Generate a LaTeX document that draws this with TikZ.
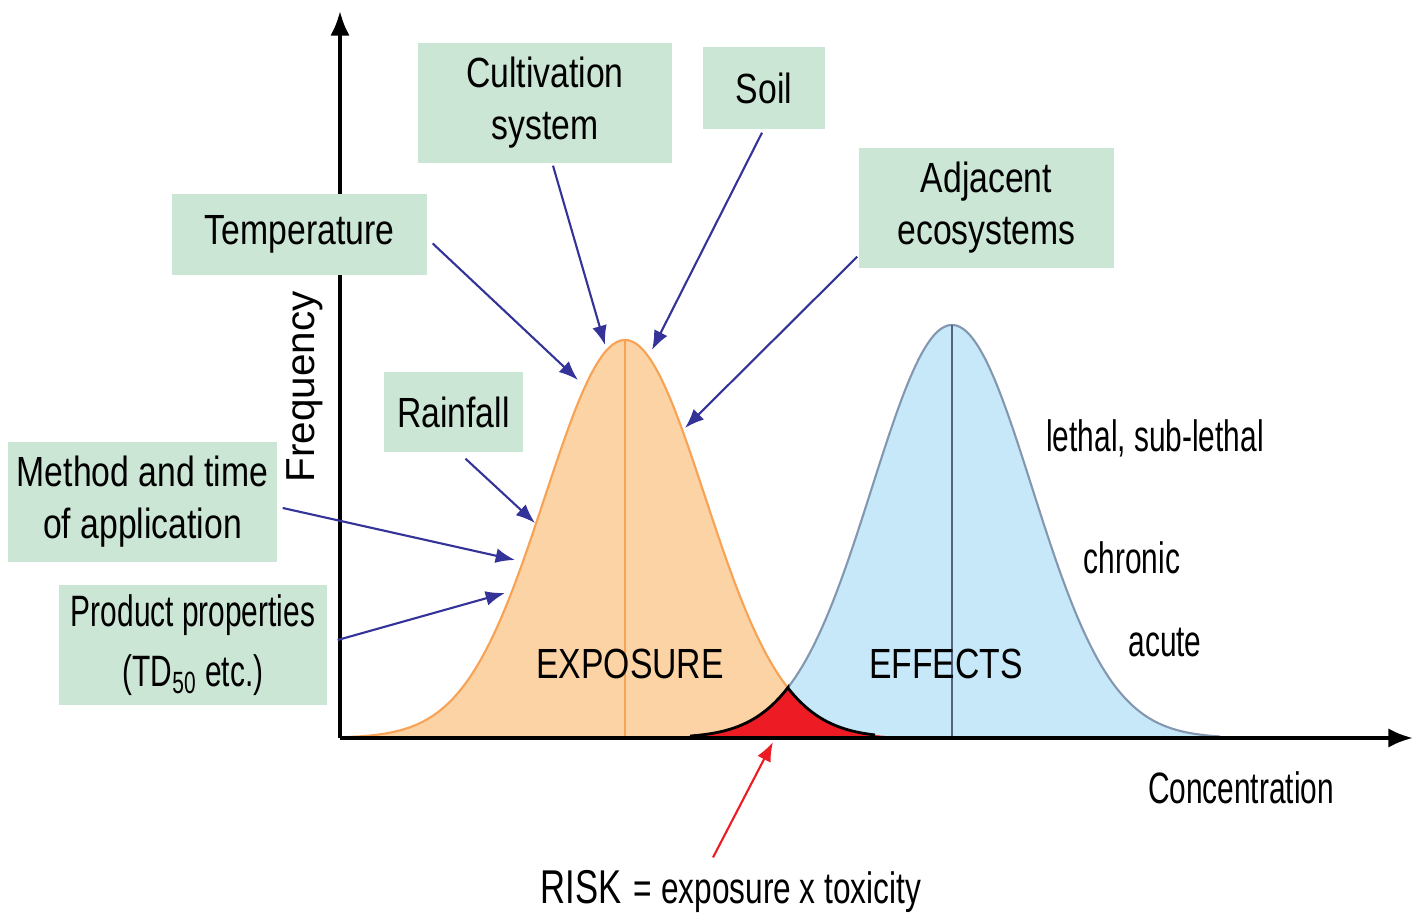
\documentclass[tikz,border=0pt]{standalone}
\usepackage{fontspec}
\setmainfont{Liberation Sans}
\usepackage{graphicx}
\usetikzlibrary{arrows.meta, positioning}

\definecolor{boxgreen}{RGB}{204,230,214}
\definecolor{expofill}{RGB}{251,211,164}
\definecolor{expoline}{RGB}{247,162,84}
\definecolor{efffill}{RGB}{198,232,248}
\definecolor{effline}{RGB}{132,151,176}
\definecolor{effmid}{RGB}{84,100,128}
\definecolor{arrowblue}{RGB}{51,51,153}
\definecolor{riskred}{RGB}{237,28,36}

\newcommand{\sq}[1]{\scalebox{0.8}[1]{#1}}
\newcommand{\narrow}[1]{\scalebox{0.68}[1]{#1}}

\begin{document}
\begin{tikzpicture}[
	declare function={expo(\x)=1.75+3.98*exp(-(\x-6.25)*(\x-6.25)/1.28);
	                  eff(\x)=1.75+4.13*exp(-(\x-9.52)*(\x-9.52)/1.28);},
	factor/.style={fill=boxgreen, inner sep=0pt, align=center, font=\fontsize{12}{14.8}\selectfont},
	pointer/.style={-{Latex[length=5.5pt,width=4.2pt]}, draw=arrowblue, line width=0.6pt},
	label/.style={font=\fontsize{12.5}{15}\selectfont},
	axis/.style={-{Latex[length=7pt,width=5.5pt]}, line width=1.1pt}
	]
	\useasboundingbox (0,0) rectangle (14.14,9.13);

	% distributions
	\fill[expofill] (3.4,1.75) -- plot[domain=3.4:9.1, samples=80, smooth] (\x,{expo(\x)}) -- (9.1,1.75) -- cycle;
	\fill[efffill] (6.8,1.75) -- plot[domain=6.8:12.2, samples=80, smooth] (\x,{eff(\x)}) -- (12.2,1.75) -- cycle;
	\draw[expoline, line width=0.6pt] plot[domain=3.4:7.88, samples=60, smooth] (\x,{expo(\x)});
	\draw[effline, line width=0.6pt] plot[domain=7.88:12.2, samples=60, smooth] (\x,{eff(\x)});
	\begin{scope}
		\clip (3.4,1.75) -- plot[domain=3.4:9.1, samples=80, smooth] (\x,{expo(\x)}) -- (9.1,1.75) -- cycle;
		\fill[riskred] (6.8,1.75) -- plot[domain=6.8:12.2, samples=80, smooth] (\x,{eff(\x)}) -- (12.2,1.75) -- cycle;
	\end{scope}
	\draw[black, line width=0.8pt] plot[domain=6.9:7.88, samples=30, smooth] (\x,{eff(\x)})
		-- plot[domain=7.88:8.75, samples=30, smooth] (\x,{expo(\x)});
	\draw[expoline, line width=0.6pt] (6.25,1.75) -- (6.25,{expo(6.25)});
	\draw[effmid, line width=0.8pt] (9.52,1.75) -- (9.52,{eff(9.52)});

	% axes
	\coordinate (O) at (3.40,1.75);
	\coordinate (ytop) at (3.40,9.02);
	\coordinate (xend) at (14.13,1.75);
	\draw[axis] (O) -- (ytop);
	\draw[axis] (O) -- (xend);

	% factors
	\node[factor, minimum width=2.54cm, minimum height=1.20cm] at (5.45,8.10) (cult) {\sq{Cultivation}\\\sq{system}};
	\node[factor, minimum width=1.22cm, minimum height=0.82cm] at (7.64,8.25) (soil) {\sq{Soil}};
	\node[factor, minimum width=2.55cm, minimum height=1.20cm] at (9.865,7.05) (adj) {\sq{Adjacent}\\\sq{ecosystems}};
	\node[factor, minimum width=2.55cm, minimum height=0.81cm] at (2.995,6.785) (temp) {\sq{Temperature}};
	\node[factor, minimum width=1.39cm, minimum height=0.80cm] at (4.535,5.01) (rain) {\sq{Rainfall}};
	\node[factor, minimum width=2.69cm, minimum height=1.20cm] at (1.425,4.11) (method) {\sq{Method and time}\\\sq{of application}};
	\node[factor, minimum width=2.68cm, minimum height=1.20cm, font=\fontsize{12.5}{17}\selectfont] at (1.93,2.68) (prod)
		{\narrow{Product properties}\\\narrow{(TD\textsubscript{50} etc.)}};

	% labels
	\node[rotate=90, font=\fontsize{11.5}{13}\selectfont] at (3.05,5.26) (freq) {Frequency};
	\node[font=\fontsize{12}{14}\selectfont] at (6.30,2.49) (expo) {\sq{EXPOSURE}};
	\node[font=\fontsize{12}{14}\selectfont] at (9.46,2.49) (eff) {\sq{EFFECTS}};
	\node[label] at (11.55,4.75) (lethal) {\narrow{lethal, sub-lethal}};
	\node[label] at (11.32,3.55) (chronic) {\narrow{chronic}};
	\node[label] at (11.65,2.70) (acute) {\narrow{acute}};
	\node[label] at (12.41,1.25) (conc) {\narrow{Concentration}};
	\node[label] at (7.31,0.21) (risk) {{\fontsize{13.5}{15}\selectfont\scalebox{0.73}[1]{RISK}} \scalebox{0.72}[1]{= exposure x toxicity}};

	% arrow targets
	\coordinate (tTemp) at (5.78,5.33);
	\coordinate (tCult) at (6.05,5.68);
	\coordinate (tSoil) at (6.52,5.63);
	\coordinate (tAdj) at (6.85,4.85);
	\coordinate (tRain) at (5.35,3.90);
	\coordinate (tMethod) at (5.15,3.53);
	\coordinate (tProd) at (5.05,3.20);
	\coordinate (tRisk) at (7.73,1.71);

	\draw[pointer] ([shift={(0.05,-0.09)}]temp.east) -- (tTemp);
	\draw[pointer] ([shift={(0.08,-0.02)}]cult.south) -- (tCult);
	\draw[pointer] ([shift={(-0.02,-0.03)}]soil.south) -- (tSoil);
	\draw[pointer] ([shift={(-0.01,0.12)}]adj.south west) -- (tAdj);
	\draw[pointer] ([shift={(0.12,-0.06)}]rain.south) -- (tRain);
	\draw[pointer] ([shift={(0.05,-0.06)}]method.east) -- (tMethod);
	\draw[pointer] ([shift={(0.10,0.05)}]prod.east) -- (tProd);
	\draw[riskred, -{Latex[length=5.5pt,width=4.2pt]}, line width=0.6pt] ([shift={(-0.18,0.01)}]risk.north) -- (tRisk);
\end{tikzpicture}
\end{document}
